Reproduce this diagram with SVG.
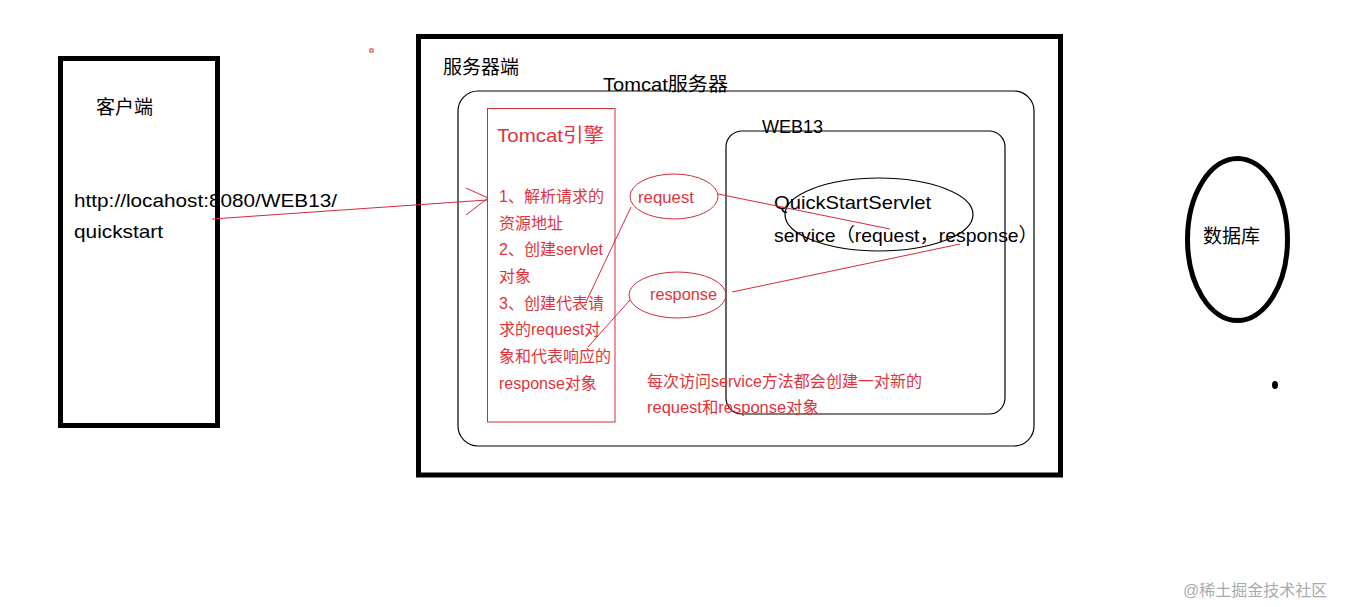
<svg xmlns="http://www.w3.org/2000/svg" width="1350" height="607" viewBox="0 0 1350 607">
<style>
text{font-family:'Liberation Sans','Noto Sans CJK SC',sans-serif;}
.blk{fill:#000;}
.red{fill:#e0343e;}
.thick{fill:none;stroke:#000;stroke-width:5;}
.thin{fill:none;stroke:#000;stroke-width:1.2;}
.rline{fill:none;stroke:#d22c3a;stroke-width:1;}
</style>
<rect width="1350" height="607" fill="#fff"/>
<g id="client">
<rect class="thick" x="60.5" y="58.5" width="157" height="367"/>
<text class="blk" x="96" y="114" font-size="19">客户端</text>
<text class="blk" x="74" y="207" font-size="19" textLength="263" lengthAdjust="spacingAndGlyphs">http://locahost:8080/WEB13/</text>
<text class="blk" x="74" y="238" font-size="19" textLength="89" lengthAdjust="spacingAndGlyphs">quickstart</text>
</g>
<g id="server">
<rect class="thick" x="418.5" y="36.5" width="642" height="438.5"/>
<text class="blk" x="443" y="74" font-size="19">服务器端</text>
</g>
<g id="tomcat">
<rect class="thin" x="458" y="91" width="576" height="355" rx="20" ry="20"/>
<text class="blk" x="603" y="91" font-size="19" textLength="125" lengthAdjust="spacingAndGlyphs">Tomcat服务器</text>
</g>
<g id="web13">
<rect class="thin" x="726" y="131" width="279" height="283" rx="16" ry="16"/>
<text class="blk" x="762" y="133" font-size="18">WEB13</text>
</g>
<g id="engine">
<rect class="rline" x="487.5" y="108.5" width="127.5" height="313.5"/>
<text class="red" x="497" y="142" font-size="19" textLength="107" lengthAdjust="spacingAndGlyphs">Tomcat引擎</text>
<g class="red" font-size="16">
<text x="499" y="202">1、解析请求的</text>
<text x="499" y="229">资源地址</text>
<text x="499" y="255">2、创建servlet</text>
<text x="499" y="282">对象</text>
<text x="499" y="309">3、创建代表请</text>
<text x="499" y="335">求的request对</text>
<text x="499" y="362">象和代表响应的</text>
<text x="499" y="389">response对象</text>
</g>
</g>
<g id="request">
<ellipse class="rline" cx="674" cy="196.5" rx="44" ry="22.5"/>
<text class="red" x="638" y="203" font-size="16" textLength="56" lengthAdjust="spacingAndGlyphs">request</text>
</g>
<g id="response">
<ellipse class="rline" cx="677.5" cy="295" rx="48.5" ry="23"/>
<text class="red" x="650" y="300" font-size="16" textLength="67" lengthAdjust="spacingAndGlyphs">response</text>
</g>
<g id="servlet">
<ellipse class="thin" cx="879" cy="214.5" rx="94" ry="36.5"/>
<text class="blk" x="774" y="209" font-size="19" textLength="157" lengthAdjust="spacingAndGlyphs">QuickStartServlet</text>
<text class="blk" x="774" y="242" font-size="19" textLength="264" lengthAdjust="spacingAndGlyphs">service（request，response）</text>
</g>
<g id="note">
<text class="red" x="647" y="387" font-size="16" textLength="275" lengthAdjust="spacingAndGlyphs">每次访问service方法都会创建一对新的</text>
<text class="red" x="647" y="413" font-size="16" textLength="172" lengthAdjust="spacingAndGlyphs">request和response对象</text>
</g>
<g id="database">
<ellipse cx="1237.5" cy="239.5" rx="50" ry="81" fill="none" stroke="#000" stroke-width="5"/>
<text class="blk" x="1203" y="243" font-size="19">数据库</text>
</g>
<g id="connectors">
<path class="rline" d="M212 219 L487 200"/>
<path class="rline" d="M466 188 L488 198 L466 215"/>
<path class="rline" d="M718 194 L890 229"/>
<path class="rline" d="M732 292 L960 244"/>
<path class="rline" d="M631 207 L586 302"/>
<path class="rline" d="M630 300 L588 347"/>
</g>
<g id="marks">
<rect x="370" y="49" width="3" height="3" fill="none" stroke="#d22c3a" stroke-width="1"/>
<ellipse cx="1275" cy="385" rx="3" ry="4" fill="#000"/>
</g>
<text x="1183" y="596" font-size="16" fill="#aaa" font-family="'Noto Sans CJK SC',sans-serif">@稀土掘金技术社区</text>
</svg>
